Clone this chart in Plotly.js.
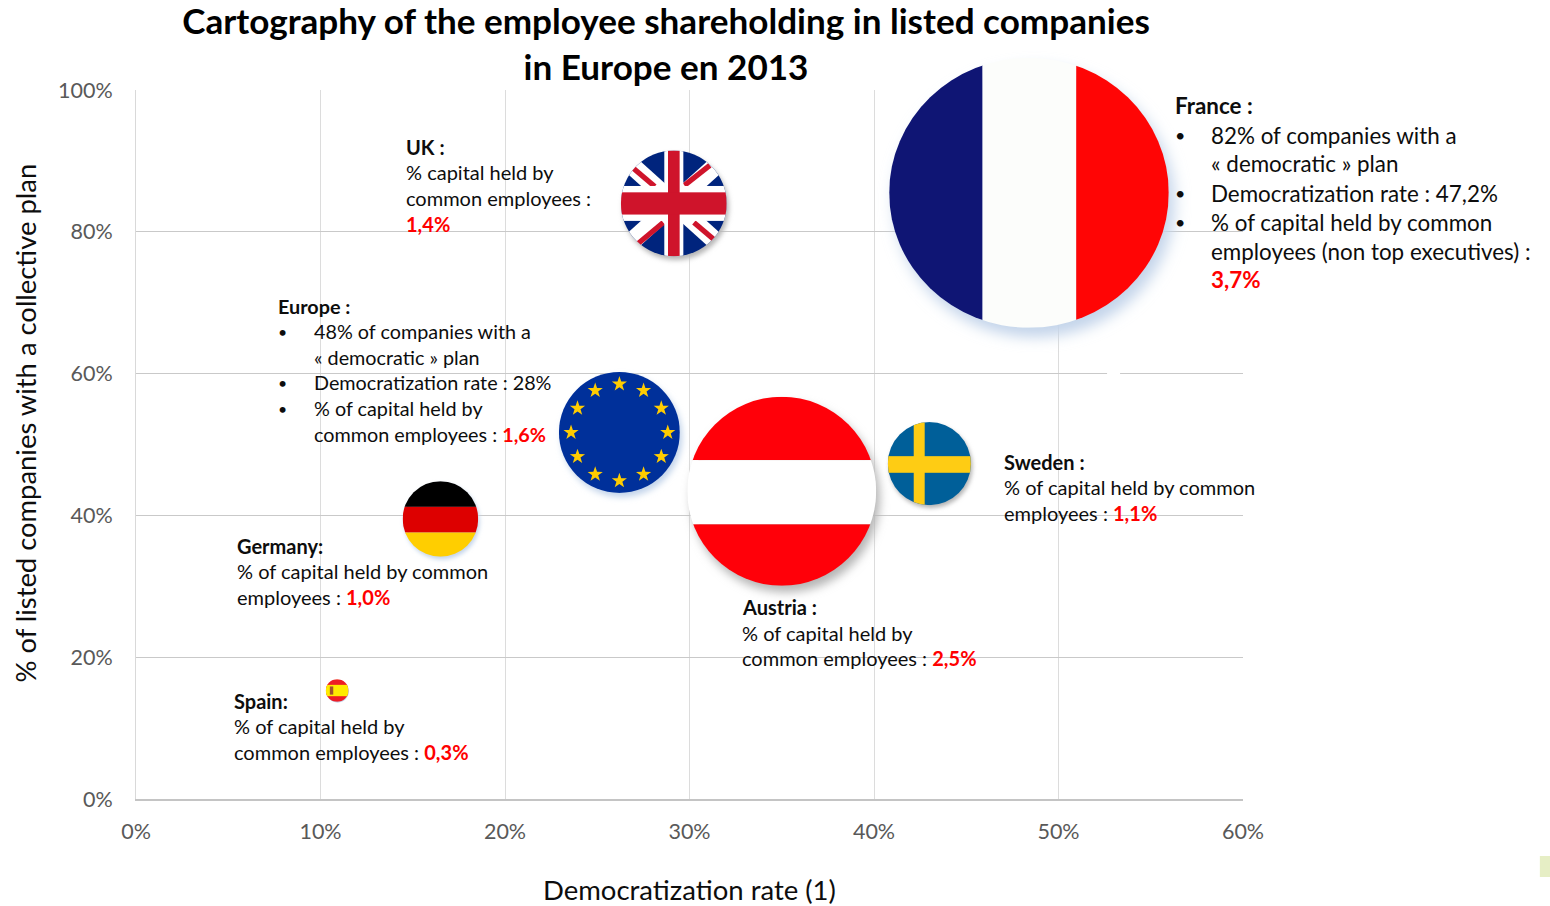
<!DOCTYPE html>
<html>
<head>
<meta charset="utf-8">
<script src="https://cdn.plot.ly/plotly-3.0.1.min.js"></script>
<style>html,body{margin:0;padding:0;background:#fff}#chart{width:1550px;height:906px}</style>
</head>
<body>
<div id="chart"></div>
<script>
// ---- data ----
var countries = ["France", "Austria", "Europe", "Sweden", "UK", "Germany", "Spain"];
var democratizationRate = [48.4, 35.0, 26.2, 43.0, 29.15, 16.5, 10.9];
var collectivePlanShare = [85.5, 43.4, 51.7, 47.3, 84.0, 39.5, 15.3];
var capitalHeld = [3.7, 2.5, 1.6, 1.1, 1.4, 1.0, 0.3];
var baseColors = ["#fcfdfb", "#ff0009", "#00309a", "#005f99", "#cf142b", "#dd0000", "#ffeb00"];
var xTickValues = [0, 10, 20, 30, 40, 50, 60];
var xTickLabels = ["0%", "10%", "20%", "30%", "40%", "50%", "60%"];
var yTickValues = [0, 20, 40, 60, 80, 100];
var yTickLabels = ["0%", "20%", "40%", "60%", "80%", "100%"];
var titleText = "<b>Cartography of the employee shareholding in listed companies<br>in Europe en 2013</b>";
var xTitle = "Democratization rate (1)";
var yTitle = "% of listed companies with a collective plan";
var R = function (s) { return '<span style="color:#ff0000"><b>' + s + '</b></span>'; };
var franceLines = ["<b>France :</b>", "82% of companies with a", "« democratic » plan", "Democratization rate : 47,2%", "% of capital held by common", "employees (non top executives) :", R("3,7%")];
var ukLines = ["<b>UK :</b>", "% capital held by", "common employees :", R("1,4%")];
var europeLines = ["<b>Europe :</b>", "48% of companies with a", "« democratic » plan", "Democratization rate : 28%", "% of capital held by", "common employees : " + R("1,6%")];
var germanyLines = ["<b>Germany:</b>", "% of capital held by common", "employees : " + R("1,0%")];
var spainLines = ["<b>Spain:</b>", "% of capital held by", "common employees : " + R("0,3%")];
var austriaLines = ["<b>Austria :</b>", "% of capital held by", "common employees : " + R("2,5%")];
var swedenLines = ["<b>Sweden :</b>", "% of capital held by common", "employees : " + R("1,1%")];

// ---- layout geometry ----
var W = 1550, H = 906;
var plotL = 135.5, plotR = 1243, plotT = 90, plotB = 799;
var plotW = plotR - plotL, plotH = plotB - plotT;
var xMax = 60, yMax = 100;
var bubblePxPerUnit = 75.6;
var FONT = "Lato, Carlito, Calibri, sans-serif";
var px2x = function (p) { return (p - plotL) / plotW; };
var px2y = function (p) { return (plotB - p) / plotH; };

// ---- flags ----
var clip = '<clipPath id="c"><circle cx="0" cy="0" r="50"/></clipPath>';
var blur = '<filter id="b" x="-30%" y="-30%" width="160%" height="160%"><feGaussianBlur stdDeviation="2.6"/></filter>';
function flagSvg(inner, shadow) {
  return 'data:image/svg+xml;charset=utf-8,' + encodeURIComponent(
    '<svg xmlns="http://www.w3.org/2000/svg" width="520" height="520" viewBox="-65 -65 130 130" preserveAspectRatio="none"><defs>' + clip + blur + '</defs>' +
    '<circle cx="2" cy="3.5" r="50" fill="' + shadow + '" filter="url(#b)"/>' +
    '<g clip-path="url(#c)">' + inner + '</g></svg>');
}
function r(x, y, w, h, f) { return '<rect x="' + x + '" y="' + y + '" width="' + w + '" height="' + h + '" fill="' + f + '"/>'; }
function l(x1, y1, x2, y2, c, w) { return '<line x1="' + x1 + '" y1="' + y1 + '" x2="' + x2 + '" y2="' + y2 + '" stroke="' + c + '" stroke-width="' + w + '"/>'; }
function stars() {
  var s = '';
  for (var i = 0; i < 12; i++) {
    var a = i * Math.PI / 6, cx = 40 * Math.sin(a), cy = -40 * Math.cos(a), pts = [];
    for (var k = 0; k < 10; k++) {
      var rad = k % 2 ? 2.6 : 6.6, t = k * Math.PI / 5;
      pts.push((cx + rad * Math.sin(t)).toFixed(2) + ',' + (cy - rad * Math.cos(t)).toFixed(2));
    }
    s += '<polygon points="' + pts.join(' ') + '" fill="#ffcc00"/>';
  }
  return s;
}
var BLUE = "#c3d4ea", GRAY = "#b5b5b5";
var flags = {
  France: flagSvg(r(-50, -50, 33.4, 100, "#0f1574") + r(-16.6, -50, 33.5, 100, "#fcfdfb") + r(16.9, -50, 33.1, 100, "#ff0505"), BLUE),
  Austria: flagSvg(r(-50, -50, 100, 33.5, "#ff0009") + r(-50, -16.5, 100, 34, "#ffffff") + r(-50, 17.5, 100, 32.5, "#ff0009"), GRAY),
  Europe: flagSvg(r(-50, -50, 100, 100, "#00309a") + stars(), BLUE),
  Sweden: flagSvg(r(-50, -50, 100, 100, "#005f99") + r(-18.8, -50, 13.2, 100, "#fecc14") + r(-50, -9, 100, 20, "#fecc14"), GRAY),
  UK: flagSvg(r(-50, -50, 100, 100, "#00247d") +
    l(-60, -54, 60, 54, "#fff", 17) + l(-60, 54, 60, -54, "#fff", 17) +
    l(-38, -33, -18, -16, "#cf142b", 5) + l(10, -17, 34, -36, "#cf142b", 5) + l(-34, 38, -10, 18, "#cf142b", 5) + l(19, 18, 39, 35, "#cf142b", 5) +
    r(-9, -50, 18, 100, "#fff") + r(-50, -16.5, 100, 33, "#fff") +
    r(-5.5, -50, 11, 100, "#cf142b") + r(-50, -10.5, 100, 21, "#cf142b"), GRAY),
  Germany: flagSvg(r(-50, -50, 100, 34, "#000") + r(-50, -16, 100, 34, "#dd0000") + r(-50, 18, 100, 32, "#ffce00"), BLUE),
  Spain: flagSvg(r(-50, -50, 100, 100, "#ee1c25") + r(-50, -25, 100, 50, "#ffeb00") + r(-32, -18, 15, 36, "#a0522d"), BLUE)
};
var squash = { France: 0.965 };

// paper-referenced so the French bubble can rise above the plot area
var images = countries.map(function (c, i) {
  var d = capitalHeld[i] * bubblePxPerUnit * 1.3;
  return {
    source: flags[c], xref: "paper", yref: "paper", x: democratizationRate[i] / xMax, y: collectivePlanShare[i] / yMax,
    sizex: d / plotW, sizey: d * (squash[c] || 1) / plotH,
    xanchor: "center", yanchor: "middle", sizing: "stretch", layer: "above"
  };
});

// ---- text blocks ----
var annotations = [];
function line(px, py, text, size) {
  annotations.push({
    xref: "paper", yref: "paper", x: px2x(px), y: px2y(py), xanchor: "left", yanchor: "middle",
    text: text, showarrow: false, align: "left", borderpad: 0, borderwidth: 0,
    font: { family: FONT, size: size, color: "#0d0d0d" }
  });
}
function block(lines, x, indentX, ys, bullets, size) {
  lines.forEach(function (t, i) {
    var lx = i === 0 || indentX === null ? x : indentX;
    line(lx, ys[i], t, size);
    if (bullets && bullets.indexOf(i) >= 0) line(x, ys[i], "•", size * 0.8);
  });
}
block(franceLines, 1175, 1211, [106, 135, 164, 193, 222, 251, 279], [1, 3, 4], 22.4);
block(ukLines, 406, null, [147, 172, 198, 224], null, 20);
block(europeLines, 278, 314, [306, 331, 357, 382, 408, 434], [1, 3, 4], 19.8);
block(germanyLines, 237, null, [546, 571, 597], null, 20);
block(spainLines, 234, null, [701, 726, 752], null, 20);
block(austriaLines, 742, null, [607, 633, 658], null, 20);
block(swedenLines, 1004, null, [462, 487, 513], null, 20);

annotations.push({
  xref: "paper", yref: "paper", x: px2x(24.5), y: px2y(423.5), xanchor: "center", yanchor: "middle",
  text: yTitle, textangle: -90, showarrow: false, borderpad: 0,
  font: { family: FONT, size: 27.4, color: "#0d0d0d" }
});
annotations.push({
  xref: "paper", yref: "paper", x: px2x(689), y: px2y(889), xanchor: "center", yanchor: "middle",
  text: xTitle, showarrow: false, borderpad: 0,
  font: { family: FONT, size: 27.5, color: "#0d0d0d" }
});

var trace = {
  type: "scatter", mode: "markers", x: democratizationRate, y: collectivePlanShare, text: countries,
  cliponaxis: false, hoverinfo: "text",
  marker: { size: capitalHeld.map(function (v) { return v * bubblePxPerUnit * 0.94; }), sizemode: "diameter", color: baseColors, line: { width: 0 }, opacity: 1 }
};

var layout = {
  width: W, height: H, paper_bgcolor: "#fff", plot_bgcolor: "#fff", showlegend: false,
  margin: { l: plotL, r: W - plotR, t: plotT, b: H - plotB, pad: 0 },
  title: { text: titleText, x: 666 / W, xanchor: "center", xref: "container", y: 1 - 34 / H, yref: "container", yanchor: "middle",
    font: { family: FONT, size: 35.1, color: "#000" } },
  xaxis: {
    range: [0, xMax], tickmode: "array", tickvals: xTickValues, ticktext: xTickLabels, fixedrange: true,
    showgrid: true, gridcolor: "#dcdcdc", gridwidth: 1, zeroline: false,
    showline: true, linecolor: "#c4c4c4", linewidth: 2, ticks: "", ticklabelstandoff: 12,
    tickfont: { family: FONT, size: 21.5, color: "#595959" }
  },
  yaxis: {
    range: [0, yMax], tickmode: "array", tickvals: yTickValues, ticktext: yTickLabels, fixedrange: true,
    showgrid: true, gridcolor: "#c9c9c9", gridwidth: 1, zeroline: false,
    showline: true, linecolor: "#d9d9d9", linewidth: 1, ticks: "", ticklabelstandoff: 18,
    tickfont: { family: FONT, size: 21.5, color: "#595959" }
  },
  images: images,
  annotations: annotations,
  shapes: [
    { type: "rect", xref: "paper", yref: "paper", x0: px2x(1107), x1: px2x(1120), y0: px2y(371), y1: px2y(376), fillcolor: "#fff", line: { width: 0 }, layer: "above" },
    { type: "rect", xref: "paper", yref: "paper", x0: px2x(1540), x1: px2x(1552), y0: px2y(856), y1: px2y(877), fillcolor: "#e6eec5", line: { width: 0 }, layer: "above" }
  ]
};
Plotly.newPlot("chart", [trace], layout, { displayModeBar: false, responsive: false });
</script>
</body>
</html>
